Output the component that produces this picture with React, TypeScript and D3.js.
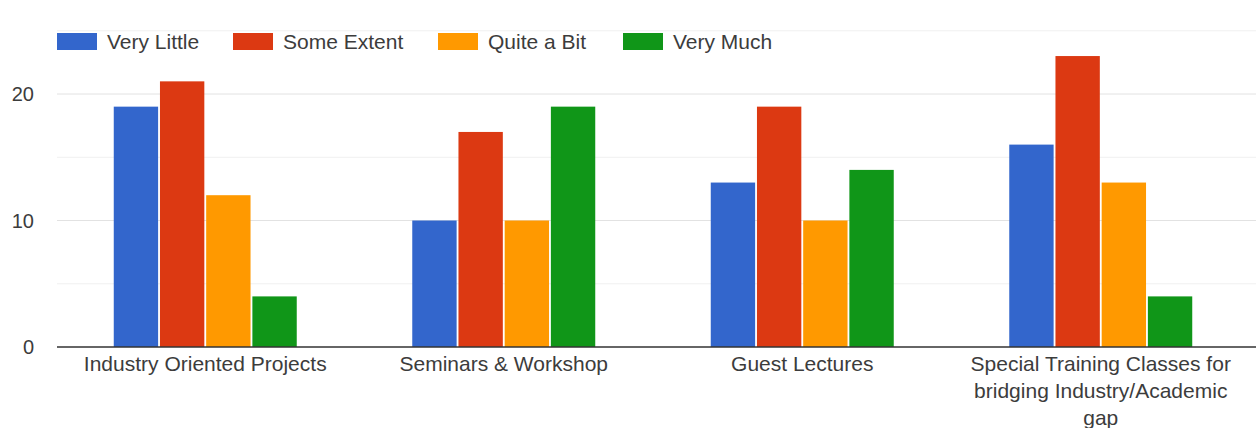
import React, { useEffect, useRef } from 'react';
import * as d3 from 'd3';

const categories = [
  'Industry Oriented Projects',
  'Seminars & Workshop',
  'Guest Lectures',
  'Special Training Classes for bridging Industry/Academic gap',
];
const seriesNames = ['Very Little', 'Some Extent', 'Quite a Bit', 'Very Much'];
const veryLittle = [19, 10, 13, 16];
const someExtent = [21, 17, 19, 23];
const quiteABit = [12, 10, 10, 13];
const veryMuch = [4, 19, 14, 4];
const colors = ['#3366cc', '#dc3912', '#ff9900', '#109618'];
const gridTicks = [0, 5, 10, 15, 20, 25];
const labelTicks = [0, 10, 20];

function App() {
  const ref = useRef<SVGSVGElement>(null);

  useEffect(() => {
    const w = 1256;
    const font = 'Arial, "Liberation Sans", sans-serif';
    const svg = d3.select(ref.current);
    svg.selectAll('*').remove();

    const series = [veryLittle, someExtent, quiteABit, veryMuch];

    const x = d3.scaleBand().domain(categories).range([56, 1250]).paddingInner(0).paddingOuter(0);
    const y = d3.scaleLinear().domain([0, 20]).range([347, 94]);

    // bars occupy ~61% of each band
    const inner = d3.scaleBand()
      .domain(seriesNames)
      .range([0, x.bandwidth()])
      .paddingOuter(1.25)
      .paddingInner(0.04);

    // gridlines
    svg.append('g')
      .selectAll('line')
      .data(gridTicks.filter((t) => t > 0))
      .enter()
      .append('line')
      .attr('x1', 57)
      .attr('x2', w)
      .attr('y1', (d) => y(d))
      .attr('y2', (d) => y(d))
      .attr('stroke', (d) => (d % 10 === 0 ? '#e2e2e2' : '#f0f0f0'))
      .attr('stroke-width', 1);

    // y labels
    svg.append('g')
      .selectAll('text')
      .data(labelTicks)
      .enter()
      .append('text')
      .text((d) => d)
      .attr('x', 34)
      .attr('y', (d) => y(d))
      .attr('dy', '0.35em')
      .attr('text-anchor', 'end')
      .attr('font-family', font)
      .attr('font-size', 20)
      .attr('fill', '#3c3c3c');

    // bars
    series.forEach((vals, si) => {
      svg.append('g')
        .selectAll('rect')
        .data(vals)
        .enter()
        .append('rect')
        .attr('x', (d, i) => (x(categories[i]) as number) + (inner(seriesNames[si]) as number))
        .attr('y', (d) => y(d))
        .attr('width', inner.bandwidth())
        .attr('height', (d) => y(0) - y(d))
        .attr('fill', colors[si]);
    });

    // baseline
    svg.append('line')
      .attr('x1', 57)
      .attr('x2', w)
      .attr('y1', y(0))
      .attr('y2', y(0))
      .attr('stroke', '#333')
      .attr('stroke-width', 1.5);

    // category labels, wrapped
    const maxW = 270;
    categories.forEach((c) => {
      const t = svg.append('text')
        .attr('text-anchor', 'middle')
        .attr('font-family', font)
        .attr('font-size', 21)
        .attr('fill', '#3c3c3c');
      const cx = (x(c) as number) + x.bandwidth() / 2;
      const words = c.split(' ');
      let line: string[] = [];
      let lineNo = 0;
      let ts = t.append('tspan').attr('x', cx).attr('y', 371);
      words.forEach((wd) => {
        line.push(wd);
        ts.text(line.join(' '));
        const node = ts.node() as SVGTSpanElement;
        if (node.getComputedTextLength() > maxW && line.length > 1) {
          line.pop();
          ts.text(line.join(' '));
          line = [wd];
          lineNo += 1;
          ts = t.append('tspan').attr('x', cx).attr('y', 371 + lineNo * 27).text(wd);
        }
      });
    });

    // legend
    const legendX = [57, 233, 438, 623];
    seriesNames.forEach((name, i) => {
      svg.append('rect')
        .attr('x', legendX[i])
        .attr('y', 33)
        .attr('width', 40)
        .attr('height', 17)
        .attr('fill', colors[i]);
      svg.append('text')
        .text(name)
        .attr('x', legendX[i] + 50)
        .attr('y', 42)
        .attr('dy', '0.35em')
        .attr('font-family', font)
        .attr('font-size', 21)
        .attr('fill', '#3c3c3c');
    });
  }, []);

  return (
    <svg
      ref={ref}
      width={1256}
      height={428}
      style={{ position: 'absolute', left: 0, top: 0, background: '#fff' }}
    />
  );
}

export default App;
